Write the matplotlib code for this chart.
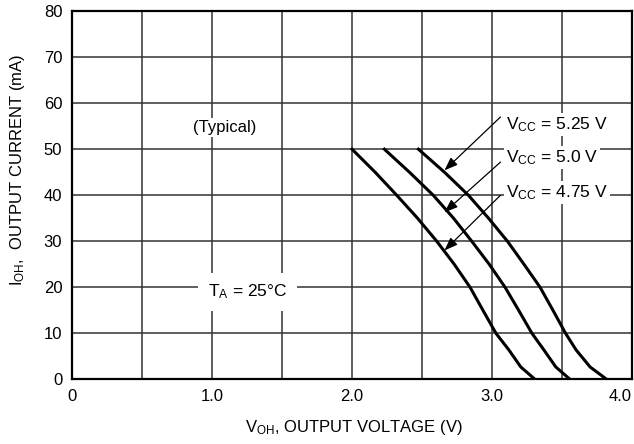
import matplotlib
matplotlib.use("Agg")
import matplotlib.pyplot as plt
from matplotlib.ticker import MultipleLocator

plt.rcParams['font.family'] = ['Liberation Sans', 'DejaVu Sans']
plt.rcParams['mathtext.default'] = 'regular'

# curves (V, mA)
i_pts = [50.0, 45.0, 40.0, 35.0, 30.0, 25.0, 20.0, 15.0, 10.0, 6.4, 2.7, 0.0]
v_475 = [2.000, 2.165, 2.319, 2.468, 2.605, 2.730, 2.843, 2.935, 3.028, 3.120, 3.205, 3.307]
v_500 = [2.231, 2.410, 2.580, 2.725, 2.855, 2.980, 3.093, 3.190, 3.285, 3.370, 3.455, 3.557]
v_525 = [2.474, 2.660, 2.831, 2.975, 3.110, 3.228, 3.343, 3.435, 3.525, 3.600, 3.700, 3.819]

x_ticks = [0, 1.0, 2.0, 3.0, 4.0]
x_labels = ['0', '1.0', '2.0', '3.0', '4.0']
y_ticks = [0, 10, 20, 30, 40, 50, 60, 70, 80]

fig = plt.figure(figsize=(6.34, 4.44), dpi=100)
ax = fig.add_axes([0.1136, 0.1455, 0.8834, 0.8295])

ax.set_xlim(0, 4.0)
ax.set_ylim(0, 80)
ax.set_xticks(x_ticks)
ax.set_xticklabels(x_labels)
ax.get_xticklabels()[-1].set_horizontalalignment('right')
ax.set_yticks(y_ticks)
ax.xaxis.set_minor_locator(MultipleLocator(0.5))
ax.grid(True, which='both', color='#333333', linewidth=1.1)
ax.set_axisbelow(True)
ax.tick_params(which='both', length=0, labelsize=12, pad=7)
for s in ax.spines.values():
    s.set_linewidth(1.6)

for v in [v_475, v_500, v_525]:
    ax.plot(v, i_pts, color='black', linewidth=2.2, solid_joinstyle='round', zorder=3)

ax.set_xlabel('$V_{OH}$, OUTPUT VOLTAGE (V)', fontsize=12)
ax.xaxis.set_label_coords(0.503, -0.105)
ax.set_ylabel('$I_{OH}$,  OUTPUT CURRENT (mA)', fontsize=12)
ax.yaxis.set_label_coords(-0.081, 0.57)

bbox = dict(facecolor='white', edgecolor='none', pad=1.5)
labels = [('$V_{CC}$ = 5.25 V', 55.3, 57.0, 45.4),
          ('$V_{CC}$ = 5.0 V', 48.2, 47.2, 36.3),
          ('$V_{CC}$ = 4.75 V', 40.6, 40.0, 28.0)]
for txt, ty, ay0, ay1 in labels:
    ax.text(3.10, ty, txt, fontsize=12.5, ha='left', va='center', bbox=bbox, zorder=4)
    ax.annotate('', xy=(2.66, ay1), xytext=(3.06, ay0),
                arrowprops=dict(arrowstyle='-|>,head_length=0.8,head_width=0.3',
                                color='black', lw=0.9, shrinkA=0, shrinkB=0),
                zorder=4)

ax.text(1.09, 54.8, '(Typical)', fontsize=12, ha='center', va='center', bbox=bbox, zorder=4)
ax.text(1.255, 19.0, '$T_A$ = 25°C', fontsize=12.5, ha='center', va='center',
        bbox=dict(facecolor='white', edgecolor='none', pad=7), zorder=4)

fig.savefig('out.png', dpi=100)
